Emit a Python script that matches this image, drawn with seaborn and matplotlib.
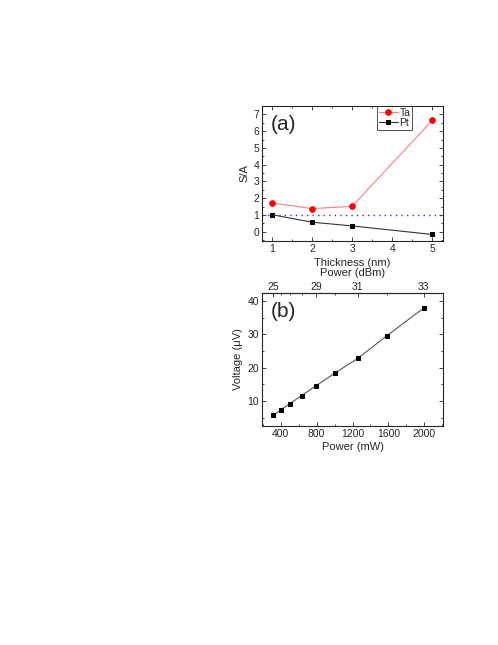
import numpy as np
import matplotlib
matplotlib.use('Agg')
import matplotlib.pyplot as plt
from matplotlib.ticker import MultipleLocator, FixedLocator
import seaborn as sns
import pandas as pd

# panel (a) data
thickness = [1, 2, 3, 5]
sa_ta = [1.72, 1.38, 1.52, 6.64]
sa_pt = [1.02, 0.57, 0.35, -0.16]

# panel (b) data
power_mw = [316, 398, 501, 631, 794, 1000, 1259, 1585, 1995]
voltage_uv = [5.7, 7.3, 9.2, 11.6, 14.6, 18.3, 22.8, 29.6, 37.9]
dbm_ticks = [25, 29, 31, 33]

sns.set_style('ticks')
plt.rcParams['font.family'] = ['Liberation Sans', 'DejaVu Sans']
plt.rcParams['font.size'] = 7.5

fig = plt.figure(figsize=(4.98, 6.45), dpi=100)
W, H = 498, 645
ax1 = fig.add_axes([262 / W, 1 - 241 / H, 181 / W, 135 / H])
ax2 = fig.add_axes([262 / W, 1 - 426 / H, 181 / W, 133 / H])

df_a = pd.DataFrame({'t': thickness, 'Ta': sa_ta, 'Pt': sa_pt})

sns.lineplot(data=df_a, x='t', y='Ta', ax=ax1, color='#ff8080', lw=0.8,
             marker='o', markersize=4, markerfacecolor='red', markeredgecolor='red', label='Ta')
sns.lineplot(data=df_a, x='t', y='Pt', ax=ax1, color='#333333', lw=0.8,
             marker='s', markersize=3.5, markerfacecolor='black', markeredgecolor='black', label='Pt')
ax1.axhline(1, color='#3333cc', ls=(0, (1, 3)), lw=1)
ax1.set_xlim(0.75, 5.27)
ax1.set_ylim(-0.55, 7.5)
ax1.xaxis.set_major_locator(MultipleLocator(1))
ax1.xaxis.set_minor_locator(MultipleLocator(0.5))
ax1.yaxis.set_major_locator(MultipleLocator(1))
ax1.yaxis.set_minor_locator(MultipleLocator(0.5))
ax1.set_xlabel('Thickness (nm)', fontsize=8, labelpad=3)
ax1.set_ylabel('S/A', fontsize=8, labelpad=3)
ax1.text(0.05, 0.93, '(a)', transform=ax1.transAxes, fontsize=15, va='top')
leg = ax1.legend(loc='upper right', bbox_to_anchor=(0.829, 1.0), fontsize=7.5, frameon=True,
                 fancybox=False, edgecolor='black', handlelength=1.8, borderpad=0.15,
                 labelspacing=0.05, borderaxespad=0, handletextpad=0.2)
leg.get_frame().set_linewidth(0.6)

df_b = pd.DataFrame({'p': power_mw, 'v': voltage_uv})
sns.lineplot(data=df_b, x='p', y='v', ax=ax2, color='#555555', lw=0.8,
             marker='s', markersize=3.5, markerfacecolor='black', markeredgecolor='black')
ax2.set_xlim(190, 2210)
ax2.set_ylim(2.5, 42.4)
ax2.xaxis.set_major_locator(MultipleLocator(400))
ax2.xaxis.set_minor_locator(MultipleLocator(200))
ax2.yaxis.set_major_locator(MultipleLocator(10))
ax2.yaxis.set_minor_locator(MultipleLocator(5))
ax2.set_xlabel('Power (mW)', fontsize=8, labelpad=2)
ax2.set_ylabel('Voltage (\u03bcV)', fontsize=8, labelpad=3)
ax2.text(0.05, 0.93, '(b)', transform=ax2.transAxes, fontsize=15, va='top')

sec = ax2.secondary_xaxis('top', functions=(lambda p: 10 * np.log10(np.clip(p, 1e-3, None)),
                                              lambda d: 10 ** (np.asarray(d) / 10)))
sec.xaxis.set_major_locator(FixedLocator(dbm_ticks))
sec.xaxis.set_minor_locator(FixedLocator([26, 27, 28, 30, 32]))
sec.set_xlabel('Power (dBm)', fontsize=8, labelpad=4)
sec.tick_params(which='major', direction='in', length=3, width=0.6, labelsize=7.5, pad=1)
sec.tick_params(which='minor', direction='in', length=1.5, width=0.6)
sec.spines['top'].set_linewidth(0.8)

for ax in (ax1, ax2):
    for s in ax.spines.values():
        s.set_linewidth(0.8)
        s.set_visible(True)
    ax.tick_params(which='major', direction='in', length=3, width=0.6, labelsize=7.5, pad=2,
                   right=True, top=(ax is ax1))
    ax.tick_params(which='minor', direction='in', length=1.5, width=0.6,
                   right=True, top=(ax is ax1))

fig.savefig('out.png', dpi=100)
